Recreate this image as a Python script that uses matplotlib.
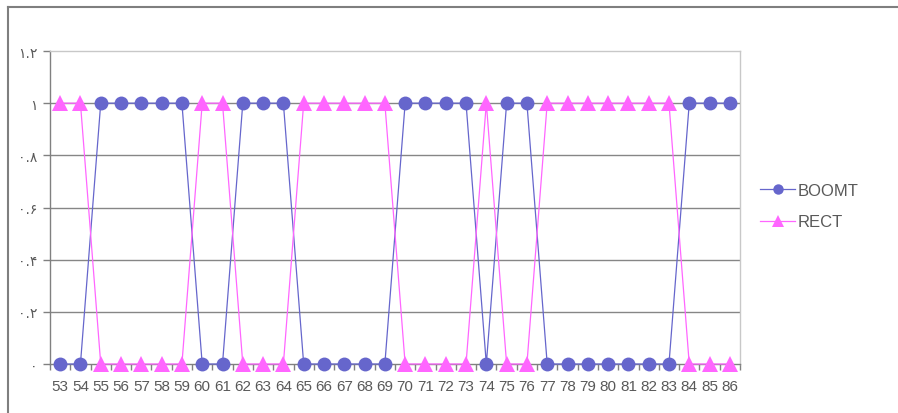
import matplotlib.pyplot as plt
from matplotlib.lines import Line2D
import numpy as np

CATEGORIES = [str(i) for i in range(53, 87)]
BOOMT = [0, 0, 1, 1, 1, 1, 1, 0, 0, 1, 1, 1, 0, 0, 0, 0, 0, 1, 1, 1, 1, 0,
         1, 1, 0, 0, 0, 0, 0, 0, 0, 1, 1, 1]
RECT = [1, 1, 0, 0, 0, 0, 0, 1, 1, 0, 0, 0, 1, 1, 1, 1, 1, 0, 0, 0, 0, 1,
        0, 0, 1, 1, 1, 1, 1, 1, 1, 0, 0, 0]
Y_TICKS = [0, 0.2, 0.4, 0.6, 0.8, 1.0, 1.2]
Y_LABELS = ['۰', '۰.۲', '۰.۴', '۰.۶', '۰.۸', '۱', '۱.۲']

BLUE = '#6666CC'
PINK = '#FF66FF'
TEXT = '#595959'

plt.rcParams['font.family'] = ['Liberation Sans', 'DejaVu Sans']

fig = plt.figure(figsize=(8.98, 4.14), dpi=100)
ax = fig.add_axes([50 / 898, 49 / 414, 690 / 898, 313 / 414])

x = np.arange(len(CATEGORIES))
ax.plot(x, BOOMT, color=BLUE, linewidth=0.9, marker='o', markersize=10,
        markeredgewidth=0, label='BOOMT', clip_on=False, zorder=3)
ax.plot(x, RECT, color=PINK, linewidth=0.9, marker='^', markersize=12,
        markeredgewidth=0, label='RECT', clip_on=False, zorder=4)

ax.set_xlim(-0.5, len(CATEGORIES) - 0.5)
ax.set_ylim(0, 1.2)

# x ticks: labels centred, marks between categories
ax.set_xticks(x)
ax.set_xticklabels(CATEGORIES, fontsize=11, color=TEXT)
ax.tick_params(axis='x', which='major', length=0, pad=11)
ax.set_xticks(np.arange(-0.5, len(CATEGORIES)), minor=True)
ax.tick_params(axis='x', which='minor', length=4, direction='out',
               color='#808080', width=1)

ax.set_yticks(Y_TICKS)
ax.set_yticklabels(Y_LABELS, fontsize=10, color=TEXT,
                   fontfamily=['DejaVu Sans'])
ax.tick_params(axis='y', length=5, direction='out', color='#808080',
               width=1, pad=4)

for yv in Y_TICKS[1:-1]:
    ax.axhline(yv, color='#868686', linewidth=1, zorder=1)

ax.spines['left'].set_color('#808080')
ax.spines['bottom'].set_color('#808080')
ax.spines['top'].set_color('#c8c8c8')
ax.spines['right'].set_color('#c8c8c8')
for s in ax.spines.values():
    s.set_linewidth(1)

leg = fig.legend(loc='center left', bbox_to_anchor=(0.83, 0.5),
                 frameon=False, fontsize=12, handlelength=2.1,
                 labelspacing=1.0, handletextpad=0.15, markerscale=0.75)
for t in leg.get_texts():
    t.set_color(TEXT)

# outer chart frame
fig.add_artist(Line2D([8 / 898, 8 / 898], [0, 1 - 8 / 414],
                      color='#7f7f7f', linewidth=1.5))
fig.add_artist(Line2D([8 / 898, 1], [1 - 8 / 414, 1 - 8 / 414],
                      color='#7f7f7f', linewidth=1.5))

fig.savefig('out.png', dpi=100)
